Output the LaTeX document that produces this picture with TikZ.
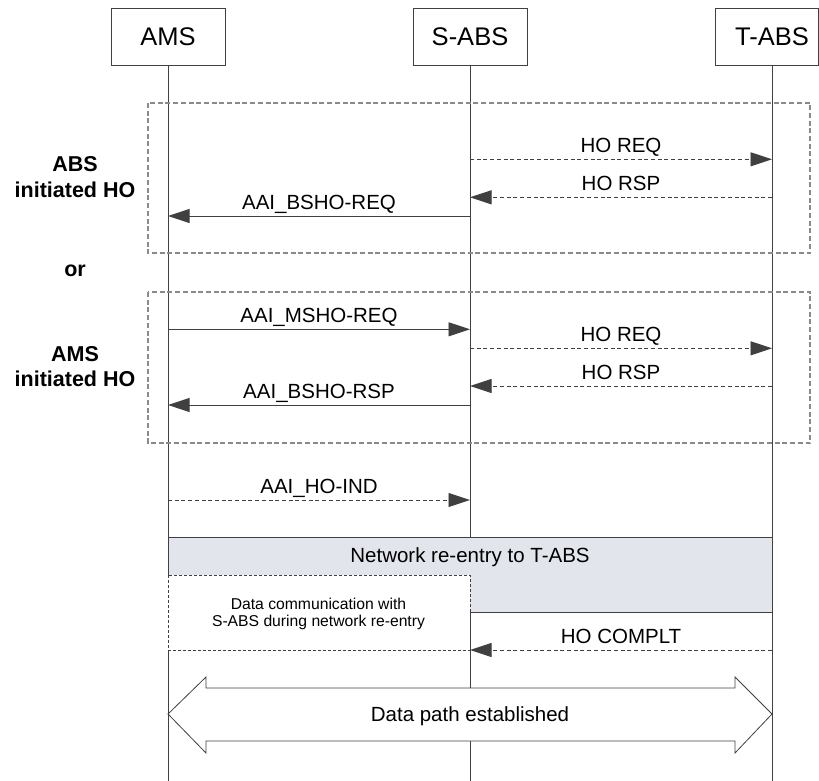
\documentclass[tikz,border=0pt]{standalone}
\usepackage{fontspec}
\setmainfont{Liberation Sans}
\usetikzlibrary{arrows.meta}
\definecolor{ln}{HTML}{404040}
\definecolor{fr}{HTML}{8A8A8A}
\definecolor{grfill}{HTML}{E3E5EC}
\begin{document}
\begin{tikzpicture}[x=1pt,y=-1pt,
  hdr/.style={draw=ln, line width=0.9pt, minimum width=114pt, minimum height=57pt, inner sep=0pt, font=\fontsize{25.5}{30}\selectfont},
  hdrtxt/.style={inner sep=0pt, font=\fontsize{25.5}{30}\selectfont},
  life/.style={draw=ln, line width=0.9pt},
  frame/.style={draw=fr, line width=1.2pt, dash pattern=on 5pt off 2.7pt},
  msg/.style={draw=ln, line width=0.9pt, -{Triangle[length=21.5pt,width=14pt]}},
  dmsg/.style={msg, dash pattern=on 4pt off 2.7pt},
  lbl/.style={font=\fontsize{20.5}{24}\selectfont, inner sep=0pt, text=black},
  mlbl/.style={lbl, anchor=base, yshift=6.7pt},
  side/.style={font=\bfseries\fontsize{21.5}{25.5}\selectfont, align=center, inner sep=0pt},
  small/.style={font=\fontsize{15.7}{17}\selectfont, align=center, inner sep=0pt},
]
\useasboundingbox (0,0) rectangle (819,781);

% headers
\node[hdr] (ams) at (168,36.5) {AMS};
\node[hdr] (sabs) at (470,36.5) {S-ABS};
\draw[draw=ln, line width=0.9pt] (715,8) rectangle (818.3,65);
\node[hdrtxt] (tabs) at (772,36.5) {T-ABS};
\coordinate (tabsb) at (772,65);

% lifelines
\coordinate (amsend) at (168,781);
\coordinate (sabsend) at (470,781);
\coordinate (tabsend) at (772,781);
\draw[life] (ams.south) -- (amsend);
\draw[life] (sabs.south) -- (sabsend);
\draw[life] (tabsb) -- (tabsend);

% frames
\draw[frame] (148,103) rectangle (810,253);
\draw[frame] (148,292) rectangle (810,443);

% side labels
\node[side] (abshi) at (75,177) {ABS\\initiated HO};
\node[side, anchor=base] (or) at (75,276) {or};
\node[side] (amshi) at (75,366.5) {AMS\\initiated HO};

% message end points
\coordinate (s1) at (470,159.3); \coordinate (t1) at (772,159.3);
\coordinate (s2) at (470,197.3); \coordinate (t2) at (772,197.3);
\coordinate (s3) at (470,216);   \coordinate (a3) at (168,216);
\coordinate (a4) at (168,329.3); \coordinate (s4) at (470,329.3);
\coordinate (s5) at (470,348.3); \coordinate (t5) at (772,348.3);
\coordinate (s6) at (470,386);   \coordinate (t6) at (772,386);
\coordinate (s7) at (470,405);   \coordinate (a7) at (168,405);
\coordinate (a8) at (168,500);   \coordinate (s8) at (470,500);

% messages
\draw[dmsg] (s1) -- node[mlbl] {HO REQ} (t1);
\draw[dmsg] (t2) -- node[mlbl] {HO RSP} (s2);
\draw[msg] (s3) -- node[mlbl] {AAI\_BSHO-REQ} (a3);
\draw[msg] (a4) -- node[mlbl] {AAI\_MSHO-REQ} (s4);
\draw[dmsg] (s5) -- node[mlbl] {HO REQ} (t5);
\draw[dmsg] (t6) -- node[mlbl] {HO RSP} (s6);
\draw[msg] (s7) -- node[mlbl] {AAI\_BSHO-RSP} (a7);
\draw[dmsg] (a8) -- node[mlbl] {AAI\_HO-IND} (s8);

% network re-entry region
\fill[grfill] (168,537) -- (772,537) -- (772,612) -- (470,612) -- (470,575) -- (168,575) -- cycle;
\draw[draw=ln, line width=0.9pt] (168,575) -- (168,537) -- (772,537) -- (772,612) -- (470,612);
\node[lbl, anchor=base] (nre) at (470,562) {Network re-entry to T-ABS};

% data communication box
\draw[fill=white, draw=ln, line width=0.8pt, dash pattern=on 3pt off 2pt] (168,575) rectangle (470,650);
\node[small] (dcom) at (318.5,613.8) {Data communication with\\S-ABS during network re-entry};

% HO COMPLT
\coordinate (t9) at (772,650); \coordinate (s9) at (470,650);
\draw[dmsg] (t9) -- node[mlbl] {HO COMPLT} (s9);

% data path double arrow
\draw[draw=ln, line width=0.8pt, fill=white]
  (168,714) -- (206,677) -- (206,688) -- (735,688) -- (735,677) -- (772,714)
  -- (735,753) -- (735,741) -- (206,741) -- (206,753) -- cycle;
\node[lbl, anchor=base] (dpath) at (470,721.5) {Data path established};
\end{tikzpicture}
\end{document}
